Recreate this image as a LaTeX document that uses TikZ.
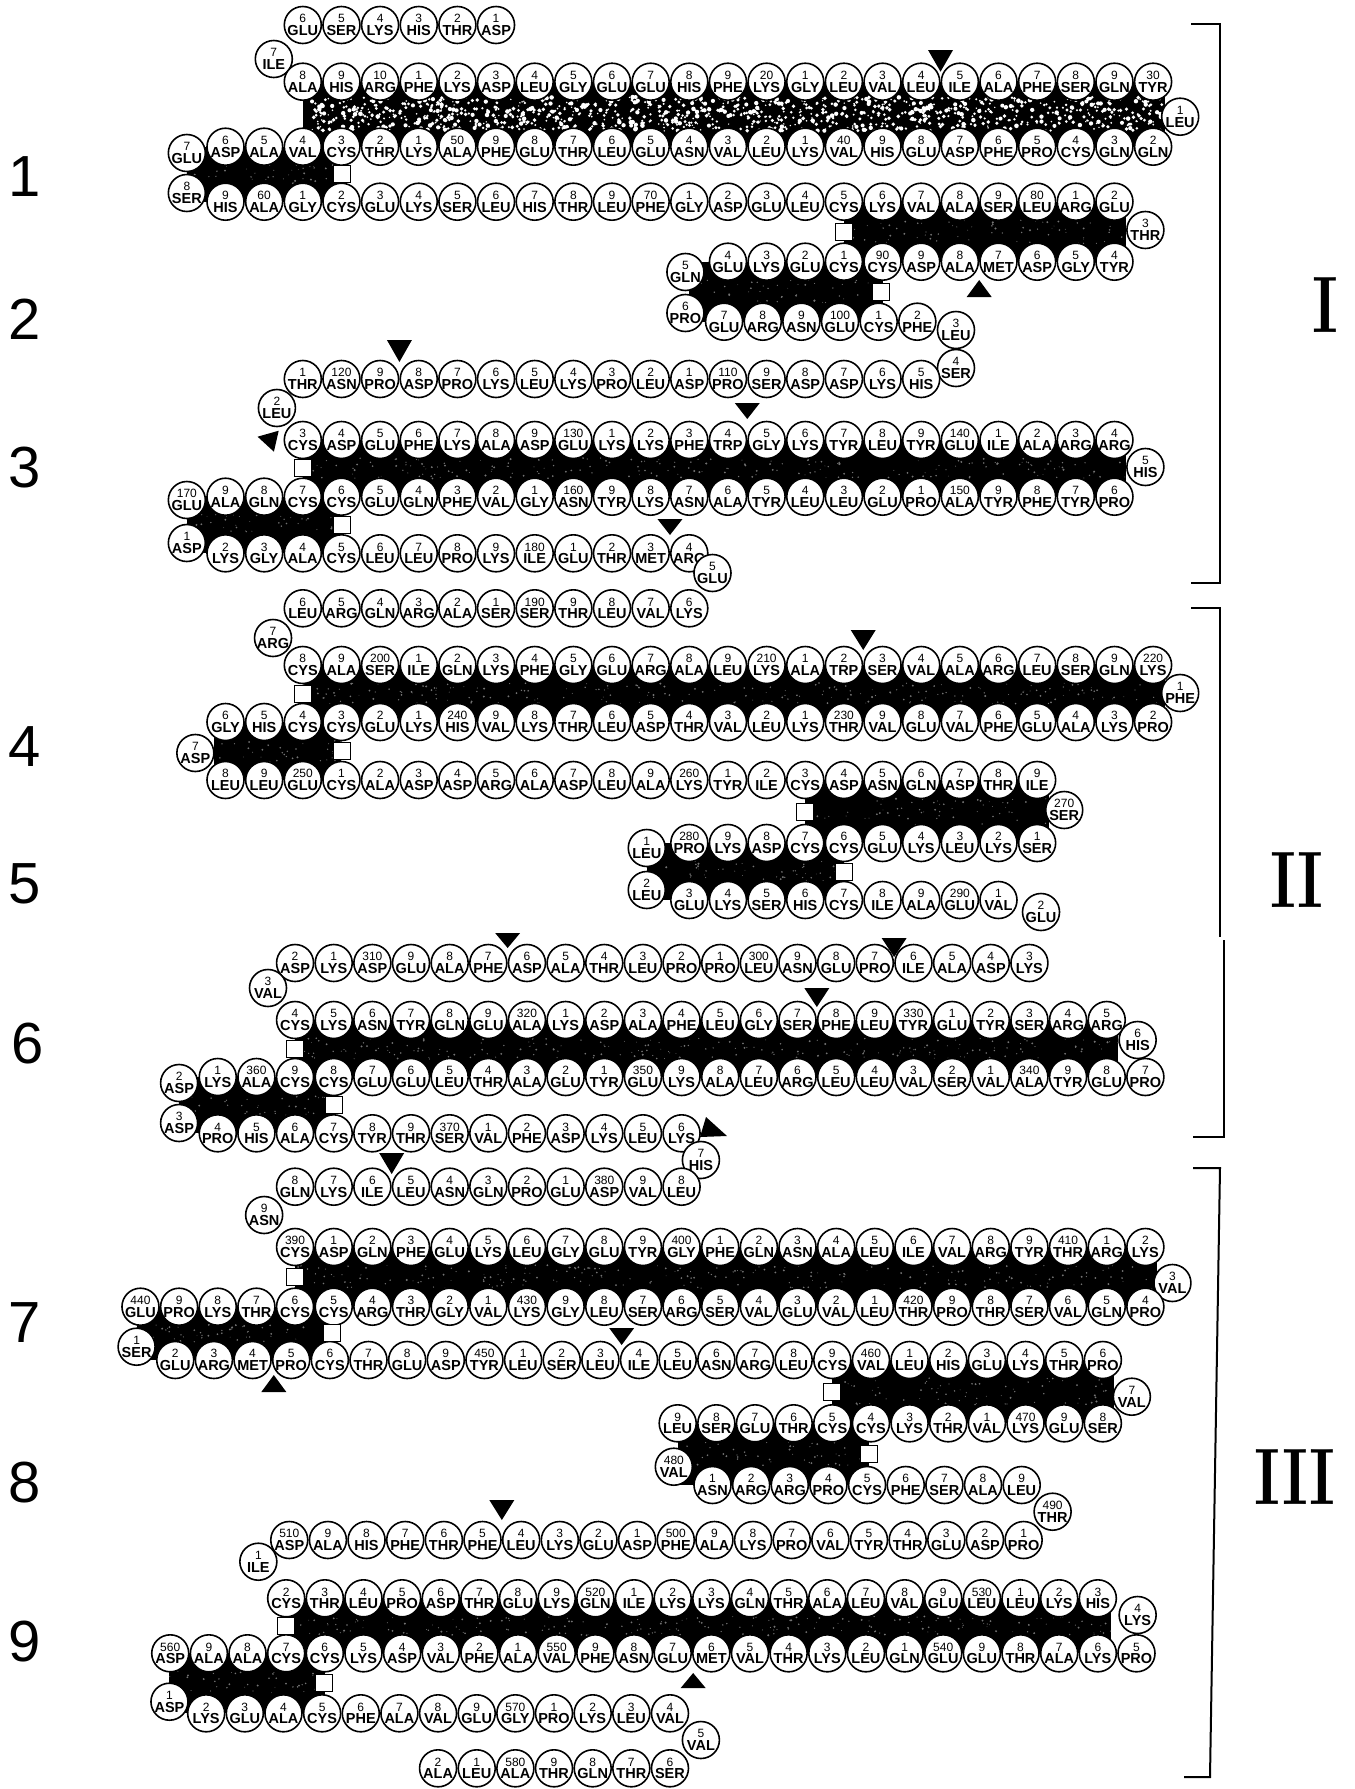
\documentclass[tikz,border=0pt]{standalone}
\usepackage{fontspec}
\usepackage{tikz}
\usetikzlibrary{calc}
\newfontfamily\resfont{Liberation Sans}
\def\colzero{302.8}
\def\colstep{38.65}
\tikzset{
  res/.style={circle,draw,line width=1.6pt,fill=white,minimum size=37pt,inner sep=-4pt,align=center,font=\resfont\fontsize{12}{12}\selectfont},
  ssbox/.style={draw,fill=white,line width=0.8pt,minimum size=17pt,inner sep=0pt},
  band/.style={fill=black},
  bracket/.style={line width=2pt},
  subnum/.style={font=\resfont\fontsize{58}{58}\selectfont,inner sep=0pt},
  domnum/.style={font=\fontsize{80}{80}\selectfont\bfseries,inner sep=0pt}
}
\newcommand\resname[2]{{\fontsize{12}{12}\selectfont #1}\\[0.5pt]{\fontsize{14.5}{14.5}\selectfont\bfseries #2}}
\newcommand\res[4]{%
  \pgfmathtruncatemacro\rd{mod(#1,10)}%
  \ifnum\rd=0 \edef\rd{#1}\fi
  \node[res] (r#1) at ({\colzero+\colstep*(#2)},#3) {\resname{\rd}{#4}};}
\newcommand\resrow[5]{%
  \foreach \nm [count=\i from 0] in {#5}{%
    \pgfmathtruncatemacro\rr{#1+\i}%
    \pgfmathsetmacro\cc{#2+(#3)*\i}%
    \res{\rr}{\cc}{#4}{\nm}}}
\newcommand\band[4]{%
  \fill[band] ({\colzero+\colstep*(#1)},#2) rectangle ({\colzero+\colstep*(#3)},#4);
  \pgfmathsetmacro\bxa{\colzero+\colstep*(#1)}%
  \pgfmathsetmacro\bxw{\colstep*((#3)-(#1))}%
  \pgfmathtruncatemacro\bn{\bxw/4}%
  \foreach \k in {1,...,\bn}{%
    \fill[black!55] ({\bxa+\bxw*rnd},{#2+18+((#4)-(#2)-36)*rnd}) circle ({0.4+0.7*rnd});}}
\newcommand\cutdown[3]{\fill ({\colzero+\colstep*(#1)-12.5},#2) -- ({\colzero+\colstep*(#1)+12.5},#2) -- ({\colzero+\colstep*(#1)},#3) -- cycle;}
\newcommand\cutup[3]{\fill ({\colzero+\colstep*(#1)-12.5},#3) -- ({\colzero+\colstep*(#1)+12.5},#3) -- ({\colzero+\colstep*(#1)},#2) -- cycle;}
\newcommand\ssbond[2]{\node[ssbox] (ss#1) at ($(r#1)!0.5!(r#2)$) {};}

\begin{document}
\begin{tikzpicture}[x=1pt,y=-1pt]
  \useasboundingbox[fill=white] (0,0) rectangle (1355,1789);
  \pgfmathsetseed{7}

  \fill[band] (302.8,81.7) rectangle (1164.7,146.7);
  \foreach \k in {1,...,1100}{%
    \pgfmathsetmacro\sx{312+850*rnd}%
    \pgfmathsetmacro\sy{97+34*rnd}%
    \fill[white] (\sx,\sy) circle ({0.7+1.6*rnd});}
  \band{-3}{146.7}{1}{201.7}
  \band{14}{201.7}{21.3}{261.7}
  \band{10}{261.7}{15}{321.7}
  \band{0}{440}{21.3}{496.7}
  \band{-3}{496.7}{1}{553.3}
  \band{0}{665}{22.3}{722}
  \band{-2.3}{722}{1}{780}
  \band{13}{780}{19.3}{843}
  \band{8.9}{843}{14}{900}
  \band{-0.2}{1020}{21.1}{1077}
  \band{-3.2}{1077}{0.8}{1133.3}
  \band{-0.2}{1247}{22.1}{1306.7}
  \band{-4.3}{1306.7}{0.75}{1360}
  \band{13.7}{1360}{21}{1423.3}
  \band{9.7}{1423.3}{14.65}{1485}
  \band{-0.43}{1598.3}{20.9}{1653.3}
  \band{-3.45}{1653.3}{0.57}{1713.3}

  \resrow{1}{5}{-1}{25}{ASP,THR,HIS,LYS,SER,GLU}
  \res{7}{-0.75}{59}{ILE}
  \resrow{8}{0}{1}{81.7}{ALA,HIS,ARG,PHE,LYS,ASP,LEU,GLY,GLU,GLU,HIS,PHE,LYS,GLY,LEU,VAL,LEU,ILE,ALA,PHE,SER,GLN,TYR}
  \res{31}{22.7}{116.7}{LEU}
  \resrow{32}{22}{-1}{146.7}{GLN,GLN,CYS,PRO,PHE,ASP,GLU,HIS,VAL,LYS,LEU,VAL,ASN,GLU,LEU,THR,GLU,PHE,ALA,LYS,THR,CYS,VAL,ALA,ASP}
  \res{57}{-3}{153}{GLU}
  \res{58}{-3}{193}{SER}
  \resrow{59}{-2}{1}{201.7}{HIS,ALA,GLY,CYS,GLU,LYS,SER,LEU,HIS,THR,LEU,PHE,GLY,ASP,GLU,LEU,CYS,LYS,VAL,ALA,SER,LEU,ARG,GLU}
  \res{83}{21.8}{230}{THR}
  \resrow{84}{21}{-1}{261.7}{TYR,GLY,ASP,MET,ALA,ASP,CYS,CYS,GLU,LYS,GLU}
  \res{95}{9.9}{272}{GLN}
  \res{96}{9.9}{313}{PRO}
  \resrow{97}{10.9}{1}{321.7}{GLU,ARG,ASN,GLU,CYS,PHE}
  \res{103}{16.9}{330}{LEU}
  \res{104}{16.9}{368}{SER}
  \resrow{105}{16}{-1}{379}{HIS,LYS,ASP,ASP,SER,PRO,ASP,LEU,PRO,LYS,LEU,LYS,PRO,ASP,PRO,ASN,THR}
  \res{122}{-0.67}{408}{LEU}
  \resrow{123}{0}{1}{440}{CYS,ASP,GLU,PHE,LYS,ALA,ASP,GLU,LYS,LYS,PHE,TRP,GLY,LYS,TYR,LEU,TYR,GLU,ILE,ALA,ARG,ARG}
  \res{145}{21.8}{467}{HIS}
  \resrow{146}{21}{-1}{496.7}{PRO,TYR,PHE,TYR,ALA,PRO,GLU,LEU,LEU,TYR,ALA,ASN,LYS,TYR,ASN,GLY,VAL,PHE,GLN,GLU,CYS,CYS,GLN,ALA}
  \res{170}{-3}{500}{GLU}
  \res{171}{-3}{543}{ASP}
  \resrow{172}{-2}{1}{553.3}{LYS,GLY,ALA,CYS,LEU,LEU,PRO,LYS,ILE,GLU,THR,MET,ARG}
  \res{185}{10.6}{573}{GLU}
  \resrow{186}{10}{-1}{608.3}{LYS,VAL,LEU,THR,SER,SER,ALA,ARG,GLN,ARG,LEU}
  \res{197}{-0.77}{638}{ARG}
  \resrow{198}{0}{1}{665}{CYS,ALA,SER,ILE,GLN,LYS,PHE,GLY,GLU,ARG,ALA,LEU,LYS,ALA,TRP,SER,VAL,ALA,ARG,LEU,SER,GLN,LYS}
  \res{221}{22.7}{693}{PHE}
  \resrow{222}{22}{-1}{722}{PRO,LYS,ALA,GLU,PHE,VAL,GLU,VAL,THR,LYS,LEU,VAL,THR,ASP,LEU,THR,LYS,VAL,HIS,LYS,GLU,CYS,CYS,HIS,GLY}
  \res{247}{-2.78}{753}{ASP}
  \resrow{248}{-2}{1}{780}{LEU,LEU,GLU,CYS,ALA,ASP,ASP,ARG,ALA,ASP,LEU,ALA,LYS,TYR,ILE,CYS,ASP,ASN,GLN,ASP,THR,ILE}
  \res{270}{19.7}{810}{SER}
  \resrow{271}{19}{-1}{843}{SER,LYS,LEU,LYS,GLU,CYS,CYS,ASP,LYS,PRO}
  \res{281}{8.9}{848}{LEU}
  \res{282}{8.9}{890}{LEU}
  \resrow{283}{10}{1}{900}{GLU,LYS,SER,HIS,CYS,ILE,ALA,GLU,VAL}
  \res{292}{19.1}{912}{GLU}
  \resrow{293}{18.8}{-1}{963}{LYS,ASP,ALA,ILE,PRO,GLU,ASN,LEU,PRO,PRO,LEU,THR,ALA,ASP,PHE,ALA,GLU,ASP,LYS,ASP}
  \res{313}{-0.9}{988}{VAL}
  \resrow{314}{-0.2}{1}{1020}{CYS,LYS,ASN,TYR,GLN,GLU,ALA,LYS,ASP,ALA,PHE,LEU,GLY,SER,PHE,LEU,TYR,GLU,TYR,SER,ARG,ARG}
  \res{336}{21.6}{1040}{HIS}
  \resrow{337}{21.8}{-1}{1077}{PRO,GLU,TYR,ALA,VAL,SER,VAL,LEU,LEU,ARG,LEU,ALA,LYS,GLU,TYR,GLU,ALA,THR,LEU,GLU,GLU,CYS,CYS,ALA,LYS}
  \res{362}{-3.2}{1083}{ASP}
  \res{363}{-3.2}{1123}{ASP}
  \resrow{364}{-2.2}{1}{1133.3}{PRO,HIS,ALA,CYS,TYR,THR,SER,VAL,PHE,ASP,LYS,LEU,LYS}
  \res{377}{10.3}{1160}{HIS}
  \resrow{378}{9.8}{-1}{1186.7}{LEU,VAL,ASP,GLU,PRO,GLN,ASN,LEU,ILE,LYS,GLN}
  \res{389}{-1}{1215}{ASN}
  \resrow{390}{-0.2}{1}{1247}{CYS,ASP,GLN,PHE,GLU,LYS,LEU,GLY,GLU,TYR,GLY,PHE,GLN,ASN,ALA,LEU,ILE,VAL,ARG,TYR,THR,ARG,LYS}
  \res{413}{22.5}{1283}{VAL}
  \resrow{414}{21.8}{-1}{1306.7}{PRO,GLN,VAL,SER,THR,PRO,THR,LEU,VAL,GLU,VAL,SER,ARG,SER,LEU,GLY,LYS,VAL,GLY,THR,ARG,CYS,CYS,THR,LYS,PRO,GLU}
  \res{441}{-4.3}{1346.7}{SER}
  \resrow{442}{-3.3}{1}{1360}{GLU,ARG,MET,PRO,CYS,THR,GLU,ASP,TYR,LEU,SER,LEU,ILE,LEU,ASN,ARG,LEU,CYS,VAL,LEU,HIS,GLU,LYS,THR,PRO}
  \res{467}{21.45}{1396.7}{VAL}
  \resrow{468}{20.7}{-1}{1423.3}{SER,GLU,LYS,VAL,THR,LYS,CYS,CYS,THR,GLU,SER,LEU}
  \res{480}{9.6}{1466.7}{VAL}
  \resrow{481}{10.6}{1}{1485}{ASN,ARG,ARG,PRO,CYS,PHE,SER,ALA,LEU}
  \res{490}{19.4}{1511.7}{THR}
  \resrow{491}{18.65}{-1}{1540}{PRO,ASP,GLU,THR,TYR,VAL,PRO,LYS,ALA,PHE,ASP,GLU,LYS,LEU,PHE,THR,PHE,HIS,ALA,ASP}
  \res{511}{-1.15}{1561.7}{ILE}
  \resrow{512}{-0.43}{1}{1598.3}{CYS,THR,LEU,PRO,ASP,THR,GLU,LYS,GLN,ILE,LYS,LYS,GLN,THR,ALA,LEU,VAL,GLU,LEU,LEU,LYS,HIS}
  \res{534}{21.6}{1615}{LYS}
  \resrow{535}{21.57}{-1}{1653.3}{PRO,LYS,ALA,THR,GLU,GLU,GLN,LEU,LYS,THR,VAL,MET,GLU,ASN,PHE,VAL,ALA,PHE,VAL,ASP,LYS,CYS,CYS,ALA,ALA,ASP}
  \res{561}{-3.45}{1701.7}{ASP}
  \resrow{562}{-2.5}{1}{1713.3}{LYS,GLU,ALA,CYS,PHE,ALA,VAL,GLU,GLY,PRO,LYS,LEU,VAL}
  \res{575}{10.3}{1740}{VAL}
  \resrow{576}{9.5}{-1}{1768.3}{SER,THR,GLN,THR,ALA,LEU,ALA}

  \ssbond{53}{62}
  \ssbond{75}{91}
  \ssbond{90}{101}
  \ssbond{123}{167}
  \ssbond{166}{175}
  \ssbond{198}{244}
  \ssbond{243}{251}
  \ssbond{263}{277}
  \ssbond{276}{287}
  \ssbond{314}{359}
  \ssbond{358}{367}
  \ssbond{390}{436}
  \ssbond{435}{446}
  \ssbond{459}{475}
  \ssbond{474}{485}
  \ssbond{512}{557}
  \ssbond{556}{565}

  \cutdown{16.5}{50}{71.7}
  \cutup{17.5}{280}{297}
  \cutdown{2.5}{340}{362}
  \cutdown{11.5}{403}{419}
  \fill (257.6,436.7) -- (278.7,430.7) -- (273.9,451.7) -- cycle;
  \cutdown{9.5}{519}{535}
  \cutdown{14.5}{630}{650}
  \cutdown{5.3}{933}{948}
  \cutdown{15.3}{938}{957}
  \cutdown{13.3}{988}{1007}
  \fill (700,1137) -- (727,1136) -- (706,1117) -- cycle;
  \cutdown{2.3}{1153}{1174}
  \cutup{-0.75}{1375}{1392}
  \cutdown{8.25}{1328}{1345}
  \cutdown{5.15}{1500}{1520}
  \cutup{10.1}{1673}{1688}

  \draw[bracket] (1191,24) -- (1220,24) -- (1220,583) -- (1191,583);
  \draw[bracket] (1191,608) -- (1220,608) -- (1220,937);
  \draw[bracket] (1224,940) -- (1224,1137) -- (1193,1137);
  \draw[bracket] (1193,1168) -- (1220,1168) -- (1210,1777) -- (1184,1777);

  \node[domnum] (dI) at (1325,305) {\scalebox{0.77}[1]{I}};
  \node[domnum] (dII) at (1297,880) {\scalebox{0.77}[1]{II}};
  \node[domnum] (dIII) at (1295,1477) {\scalebox{0.77}[1]{III}};

  \node[subnum] (n1) at (25,177) {1};
  \node[subnum] (n2) at (25,319) {2};
  \node[subnum] (n3) at (25,468) {3};
  \node[subnum] (n4) at (25,747) {4};
  \node[subnum] (n5) at (25,884) {5};
  \node[subnum] (n6) at (28,1044) {6};
  \node[subnum] (n7) at (25,1323) {7};
  \node[subnum] (n8) at (25,1483) {8};
  \node[subnum] (n9) at (25,1642) {9};
\end{tikzpicture}
\end{document}
